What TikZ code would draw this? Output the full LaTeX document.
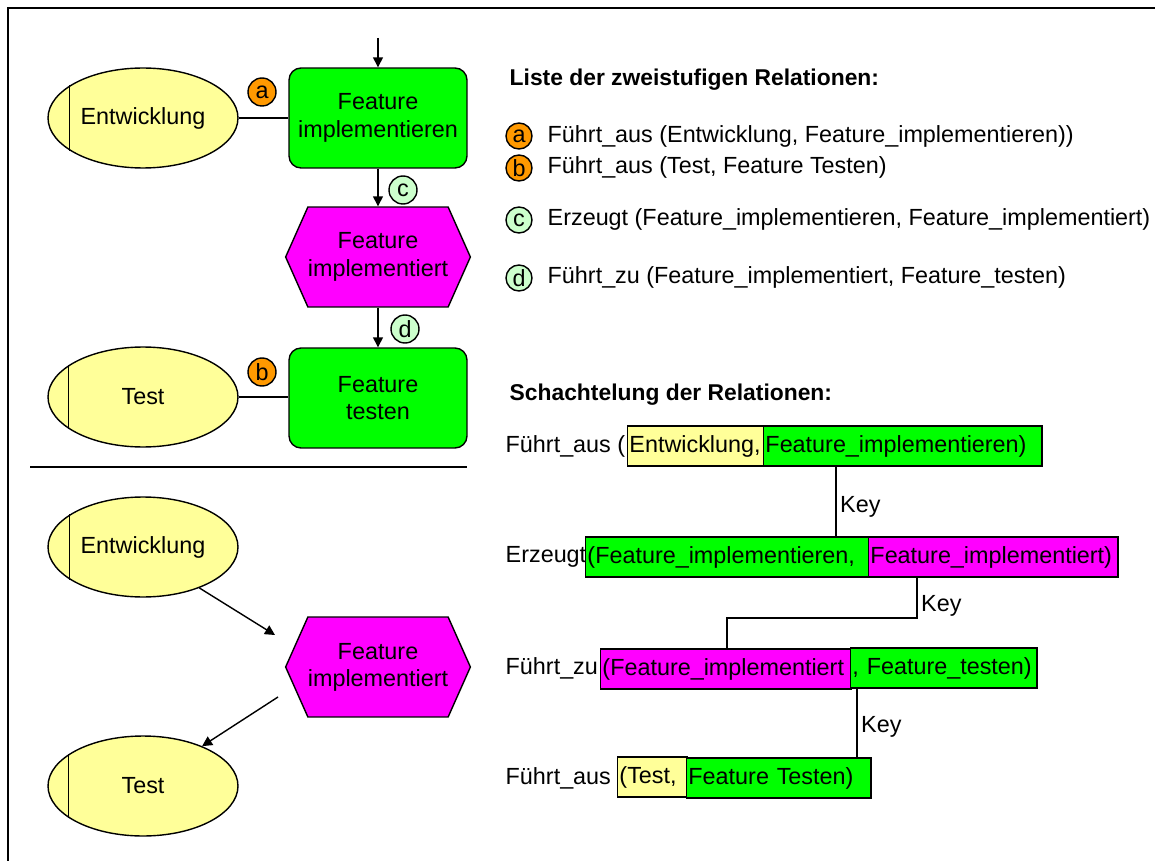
\documentclass[tikz,border=0pt]{standalone}
\usepackage{fontspec}
\setmainfont{Liberation Sans}
\usetikzlibrary{shapes.geometric,shapes.symbols,arrows.meta,calc}

\definecolor{unityellow}{HTML}{FFFF99}
\definecolor{funcgreen}{HTML}{00FF00}
\definecolor{evmagenta}{HTML}{FF00FF}
\definecolor{relorange}{HTML}{FF9900}
\definecolor{rellight}{HTML}{CCFFCC}

\begin{document}
\begin{tikzpicture}[x=0.02cm,y=-0.02cm,line width=0.8pt,
  font=\fontsize{13.3}{15.5}\selectfont,
  orgunit/.style={ellipse,draw,fill=unityellow,minimum width=3.8cm,minimum height=2cm,inner sep=0pt},
  func/.style={rectangle,rounded corners=0.24cm,draw,fill=funcgreen,minimum width=3.56cm,minimum height=2cm,align=center},
  event/.style={signal,signal to=west and east,signal pointer angle=132,draw,fill=evmagenta,
    minimum width=3.58cm,minimum height=2cm,align=center,inner sep=0pt},
  badgeorg/.style={circle,draw,fill=relorange,minimum size=0.56cm,inner sep=0pt},
  badgegrn/.style={circle,draw,fill=rellight,minimum size=0.56cm,inner sep=0pt},
  flow/.style={-{Triangle[length=2mm,width=2mm]}},
  lbl/.style={anchor=west,inner sep=0pt},
  titlelbl/.style={lbl,font=\fontsize{13}{15.5}\selectfont\bfseries},
  argbox/.style={draw,anchor=west,minimum height=0.8cm,inner xsep=1pt,align=left},
  keylbl/.style={anchor=west,inner sep=2pt}]
\useasboundingbox (0,0) rectangle (1155,861);
\draw (8,861) |- (1155,8);
\draw (30,467) -- (467,467);

% oberer Ablauf
\node[orgunit] (E1) at (143,118) {Entwicklung};
\node[func] (F1) at (378,118) {Feature\\implementieren};
\node[event] (H1) at (378,257) {Feature\\implementiert};
\node[func] (F2) at (378,398) {Feature\\testen};
\node[orgunit] (T1) at (143,397) {Test};
\coordinate (in) at (378,38);
\draw (E1.156) -- (E1.204);
\draw (T1.157) -- (T1.203);
\draw[flow] (in) -- (F1.north);
\draw (E1.east) -- (F1.west);
\draw[flow] (F1.south) -- (H1.north);
\draw[flow] (H1.south) -- (F2.north);
\draw (T1.east) -- (F2.west |- T1.east);
\node[badgeorg] (a) at (262,92) {a};
\node[badgeorg] (b) at (262,372) {b};
\node[badgegrn] (c) at (403,190) {c};
\node[badgegrn] (d) at (405,329) {d};

% unterer Ablauf
\node[orgunit] (E2) at (143,547) {Entwicklung};
\node[event] (H2) at (378,667) {Feature\\implementiert};
\node[orgunit] (T2) at (143,786) {Test};
\draw (E2.156) -- (E2.204);
\draw (T2.157) -- (T2.203);
\coordinate (p1) at (275,635);
\coordinate (p2) at (278,697);
\draw[flow] (E2.-36) -- (p1);
\draw[flow] (p2) -- (T2.34);

% Liste
\node[titlelbl] (title1) at (509,80) {Liste der zweistufigen Relationen:};
\node[badgeorg,minimum size=0.52cm] (la) at (519,136) {a};
\node[badgeorg,minimum size=0.52cm] (lb) at (519,168) {b};
\node[badgegrn,minimum size=0.52cm] (lc) at (519,220) {c};
\node[badgegrn,minimum size=0.52cm] (ld) at (519,278) {d};
\node[lbl] (ta) at (547,136) {Führt\_aus (Entwicklung, Feature\_implementieren))};
\node[lbl] (tb) at (547,167) {Führt\_aus (Test, Feature Testen)};
\node[lbl] (tc) at (547,219) {Erzeugt (Feature\_implementieren, Feature\_implementiert)};
\node[lbl] (td) at (547,277) {Führt\_zu (Feature\_implementiert, Feature\_testen)};

% Schachtelung
\node[titlelbl] (title2) at (509,395) {Schachtelung der Relationen:};
\node[lbl] (r1) at (505,446) {Führt\_aus (};
\node[argbox,fill=unityellow,text width=2.64cm] (r1a) at (627,446) {Entwicklung,};
\node[argbox,fill=funcgreen,text width=5.5cm] (r1b) at (763,446) {Feature\_implementieren)};
\node[lbl] (r2) at (505,557) {Erzeugt};
\node[argbox,fill=funcgreen,text width=5.6cm] (r2a) at (585,557) {(Feature\_implementieren,};
\node[argbox,fill=evmagenta,text width=4.92cm] (r2b) at (868,557) {Feature\_implementiert)};
\node[lbl] (r3) at (505,668) {Führt\_zu};
\node[argbox,fill=evmagenta,text width=4.94cm] (r3a) at (600,669) {(Feature\_implementiert};
\node[argbox,fill=funcgreen,text width=3.66cm] (r3b) at (850,668) {, Feature\_testen)};
\node[lbl] (r4) at (505,778) {Führt\_aus};
\node[argbox,fill=unityellow,text width=1.32cm] (r4a) at (617,777) {(Test,};
\node[argbox,fill=funcgreen,text width=3.62cm] (r4b) at (686,778) {Feature Testen)};

\node[keylbl] (k1) at (836,507) {Key};
\node[keylbl] (k2) at (917,606) {Key};
\node[keylbl] (k3) at (857,727) {Key};
\coordinate (bend) at (727,618);
\draw (r1b.south -| k1.west) -- (r2a.north -| k1.west);
\draw (r2b.south -| k2.west) |- (bend) -- (r3a.north -| bend);
\draw (r3b.south -| k3.west) -- (r4b.north -| k3.west);
\end{tikzpicture}
\end{document}
